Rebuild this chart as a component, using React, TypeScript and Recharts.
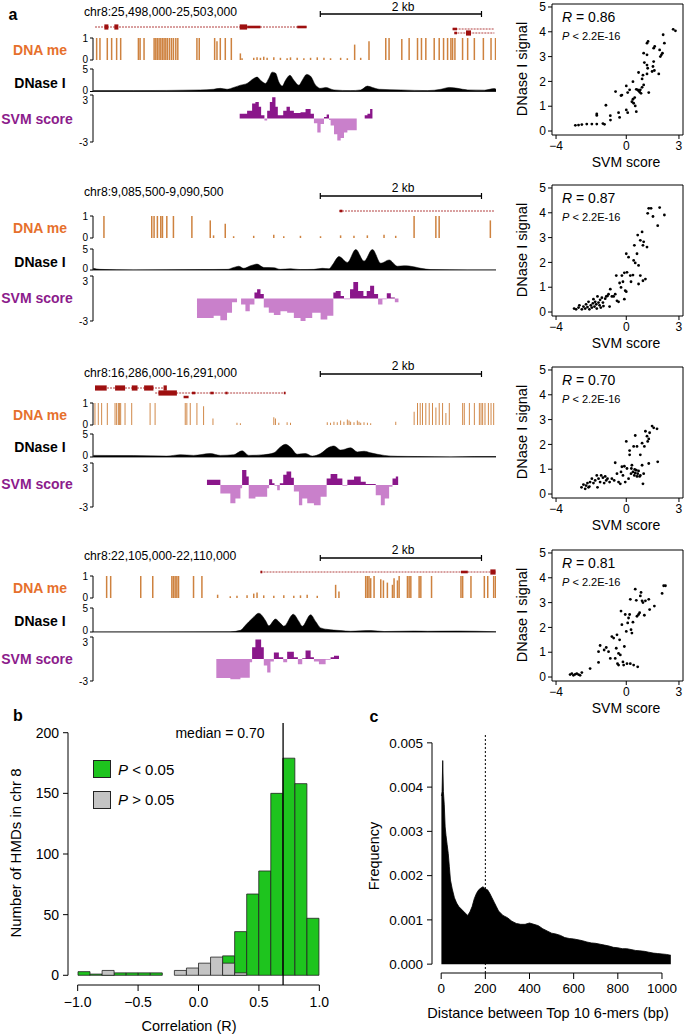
import React from 'react';
import {
  ComposedChart, Area, Bar, XAxis, YAxis, ReferenceLine, ReferenceArea,
  ScatterChart, Scatter,
} from 'recharts';

const FONT = '"Liberation Sans", Arial, Helvetica, sans-serif';
const ORANGE = '#e6702c';
const PURPLE = '#8c1c8c';
const SVM_POS = '#8a168a';
const SVM_NEG = '#c980cb';
const METH = '#c9742a';
const GENE = '#9e1010';

// ---------------- Panel a data ----------------
const regions = [
  'chr8:25,498,000-25,503,000',
  'chr8:9,085,500-9,090,500',
  'chr8:16,286,000-16,291,000',
  'chr8:22,105,000-22,110,000',
];
const scaleBarBp = [2820, 4820];
const hmds: [number, number][] = [[1829, 3467], [1310, 3786], [1422, 3778], [1539, 3052]];

const meth1: [number, number][] = [
  [46, 1], [87, 1], [178, 1], [232, 1], [294, 1], [344, 1], [564, 1], [585, 1], [634, 1], [759, 1], [780, 1], [800, 1],
  [821, 1], [842, 1], [863, 1], [883, 1], [904, 1], [925, 1], [950, 1], [975, 1], [999, 1], [1028, 1], [1053, 1],
  [1290, 1], [1319, 1], [1510, 1], [1539, 0.85], [1580, 1], [1642, 1], [1717, 1],
  [1829, 0.3], [1850, 0.08], [1995, 0.1], [2036, 0.12], [2078, 0.1], [2119, 0.15], [2161, 0.1], [2244, 0.12], [2326, 0.1],
  [2409, 0.08], [2451, 0.12], [2534, 0.1], [2617, 0.08], [2700, 0.1], [2783, 0.12], [2866, 0.1], [2948, 0.08], [3073, 0.1],
  [3156, 0.08], [3247, 0.7], [3322, 0.1], [3425, 0.85],
  [3633, 1], [3674, 1], [3832, 0.95], [3923, 1], [4027, 1], [4076, 1], [4130, 1], [4234, 1], [4296, 1], [4350, 1], [4400, 1],
  [4441, 1], [4462, 1], [4491, 1], [4586, 1], [4649, 1], [4732, 1], [4844, 1], [4939, 1], [4995, 1],
];
const meth2: [number, number][] = [
  [137, 1], [730, 1], [759, 1], [800, 1], [842, 1], [863, 1], [917, 1], [999, 1], [1228, 1],
  [1456, 0.8], [1497, 0.12], [1642, 0.65], [1746, 0.08], [1995, 0.1], [2244, 0.15], [2368, 0.08], [2575, 0.1], [2824, 0.08],
  [3073, 0.12], [3239, 0.1], [3405, 0.12], [3612, 0.15], [3757, 0.1],
  [3985, 1], [4255, 1], [4296, 1], [4931, 0.8],
];
const meth3: [number, number][] = [
  [25, 1], [66, 1], [108, 1], [178, 1], [274, 1], [294, 1], [315, 1], [328, 1], [344, 1], [398, 1], [481, 1], [709, 1], [771, 1],
  [1145, 1], [1165, 1], [1207, 1], [1290, 1], [1373, 0.85], [1489, 0.3],
  [1787, 0.1], [1829, 0.08], [2244, 0.35], [2264, 0.3], [2306, 0.1], [2409, 0.12], [2451, 0.1], [2907, 0.12], [2948, 0.1],
  [2990, 0.15], [3031, 0.12], [3073, 0.2], [3114, 0.15], [3156, 0.25], [3177, 0.2], [3197, 0.15], [3239, 0.12], [3280, 0.2],
  [3301, 0.15], [3322, 0.1], [3363, 0.12], [3405, 0.1], [3446, 0.08], [3757, 0.15],
  [3985, 0.6], [4027, 1], [4060, 1], [4089, 1], [4130, 1], [4172, 1], [4213, 1], [4255, 0.8], [4296, 1], [4338, 1], [4379, 0.55],
  [4421, 1], [4587, 1], [4607, 1], [4670, 1], [4732, 1], [4794, 1], [4815, 1], [4835, 1], [4864, 1], [4906, 1], [4939, 1], [4972, 1],
];
const meth4: [number, number][] = [
  [170, 1], [220, 1], [593, 1], [742, 1], [979, 1], [999, 1], [1020, 1], [1041, 1], [1062, 1], [1248, 1], [1352, 1],
  [1547, 0.15], [1704, 0.08], [1787, 0.1], [1912, 0.12], [1995, 0.2], [2036, 0.25], [2119, 0.12], [2244, 0.1], [2368, 0.12],
  [2492, 0.1], [2575, 0.12], [2658, 0.15], [2783, 0.1], [3011, 0.6], [3052, 0.3],
  [3384, 1], [3405, 1], [3425, 1], [3446, 0.9], [3488, 1], [3571, 0.85], [3604, 0.8], [3653, 0.7], [3716, 0.6], [3736, 0.9],
  [3778, 0.8], [3799, 1], [3902, 1], [3923, 1], [3944, 1], [4047, 1], [4068, 1], [4201, 1], [4566, 1], [4587, 1], [4690, 1],
  [4856, 1], [4898, 1], [4972, 1], [4995, 1],
];

const dnase1: [number, number][] = [
  [4, 0.2], [502, 0.2], [1331, 0.35], [1497, 0.5], [1580, 0.7], [1663, 0.5], [1746, 0.9], [1829, 1.4], [1912, 1.8],
  [1995, 2.9], [2036, 3.2], [2078, 2.5], [2140, 1.8], [2181, 2.9], [2223, 4.3], [2264, 4.1], [2306, 2.1], [2347, 1.2],
  [2389, 2.5], [2443, 3.6], [2492, 2.5], [2555, 1.4], [2596, 2.5], [2650, 3.8], [2700, 3.4], [2762, 1.4], [2824, 0.7],
  [2886, 0.9], [2990, 0.35], [3197, 0.2], [3322, 0.35], [3405, 1.2], [3467, 0.9], [3550, 0.5], [3819, 0.35], [4151, 0.2],
  [4317, 0.5], [4421, 0.9], [4524, 0.7], [4649, 0.35], [4856, 0.3], [4980, 0.65], [5000, 0.5],
];
const dnase2: [number, number][] = [
  [4, 0.4], [87, 0.15], [502, 0], [1331, 0.1], [1663, 0.15], [1746, 0.6], [1808, 0.9], [1870, 0.4], [1953, 1.0],
  [2036, 1.4], [2119, 0.6], [2244, 0.55], [2326, 0.15], [2451, 0.3], [2575, 0.1], [2741, 0.15], [2845, 0.4], [2928, 0.3],
  [2970, 1.2], [3052, 3.2], [3156, 1.8], [3260, 4.9], [3363, 2.1], [3467, 4.9], [3571, 1.6], [3674, 2.4], [3778, 0.9],
  [3860, 1.0], [3923, 0.95], [4068, 0.4], [4192, 0.1], [4649, 0], [5000, 0],
];
const dnase3: [number, number][] = [
  [4, 0.35], [502, 0.3], [916, 0.2], [1082, 0.5], [1248, 0.35], [1456, 0.75], [1580, 0.35], [1746, 0.5], [1850, 1.35],
  [1933, 0.35], [2119, 0.5], [2244, 0.9], [2326, 2.2], [2389, 2.75], [2451, 2.1], [2534, 0.6], [2637, 0.75], [2720, 0.2],
  [2824, 0.75], [2928, 2.1], [2990, 2.4], [3073, 1.5], [3197, 2.0], [3280, 1.1], [3363, 1.25], [3446, 0.9], [3612, 0.35],
  [3778, 0.15], [4027, 0.1], [4441, 0], [4732, 0.1], [5000, 0.1],
];
const dnase4: [number, number][] = [
  [4, 0], [1704, 0.05], [1829, 0.35], [1891, 1.4], [1974, 2.8], [2057, 3.9], [2140, 2.4], [2181, 1.3], [2264, 2.7],
  [2326, 1.8], [2368, 1.2], [2484, 3.7], [2555, 2.2], [2596, 1.2], [2700, 3.6], [2762, 2.2], [2824, 0.85], [2907, 0.55],
  [3073, 0.3], [3197, 0.15], [3446, 0.3], [3612, 0.1], [3985, 0.2], [4151, 0.15], [4524, 0.2], [5000, 0.05],
];

const svm1: [number, number][] = [
  [1820, 0.6], [1912, 1.0], [1974, 1.9], [2015, 2.1], [2057, 1.5], [2086, 0.4], [2127, -0.25], [2161, 1.0], [2194, 2.1],
  [2223, 2.7], [2264, 1.5], [2293, 0.4], [2360, 1.0], [2401, 1.5], [2443, 1.0], [2492, 0.7], [2575, 0.8], [2637, 1.2],
  [2700, 0.6], [2741, -0.6], [2783, -1.8], [2824, -0.7], [2866, 0.2], [2899, 0.5], [2928, -0.2], [2948, -0.9], [2990, -2.0],
  [3031, -2.8], [3073, -2.5], [3114, -1.8], [3156, -1.5], [3272, 0], [3371, 0.4], [3405, 0.6], [3438, 1.2], [3467, 1.2],
];
const svm2: [number, number][] = [
  [1290, -2.6], [1497, -2.3], [1580, -2.9], [1663, -1.9], [1725, -0.5], [1787, 0], [1837, -0.8], [1891, -1.7], [1945, -0.8],
  [2003, 0.8], [2036, 1.25], [2078, 0.6], [2119, -1.2], [2181, -1.9], [2244, -2.2], [2326, -1.7], [2409, -1.9], [2492, -2.6],
  [2575, -3.0], [2637, -2.6], [2720, -1.9], [2824, -2.8], [2907, -2.3], [2982, 0.8], [3011, 1.0], [3073, 0.35], [3114, -0.1],
  [3189, 1.25], [3230, 2.2], [3289, 1.0], [3355, 0.35], [3396, 1.0], [3438, 1.7], [3488, 0.6], [3537, -0.8], [3591, -0.1],
  [3645, 0.7], [3695, 0.15], [3745, -0.5], [3790, -0.5],
];
const svm3: [number, number][] = [
  [1414, 0.7], [1580, -1.15], [1704, -2.5], [1767, -1.85], [1829, -0.45], [1850, 2.05], [1903, 1.15], [1932, -1.85],
  [2015, -1.6], [2161, -0.45], [2185, 0.8], [2223, 0.25], [2252, -0.1], [2285, -0.7], [2318, 0.25], [2360, 1.4], [2401, 1.85],
  [2459, 1.0], [2492, -0.9], [2555, -2.75], [2596, -1.85], [2658, -2.5], [2741, -2.75], [2824, -1.6], [2899, 0.9], [2948, 1.5],
  [3031, 0.9], [3094, -0.1], [3156, 0.7], [3239, 1.15], [3322, 0.45], [3384, 0.15], [3508, -1.4], [3571, -2.75], [3620, -1.85],
  [3674, -0.25], [3716, 0.9], [3757, 1.15], [3786, 1.15],
];
const svm4: [number, number][] = [
  [1530, -2.6], [1704, -2.75], [1829, -2.55], [1945, -0.45], [1974, 1.6], [2015, 2.65], [2086, 1.6], [2119, -0.9],
  [2161, -1.85], [2202, -0.35], [2244, 0.9], [2306, 0.25], [2360, -0.45], [2409, 1.0], [2492, 0.25], [2542, -0.7], [2596, 0.1],
  [2637, 1.15], [2700, 0.25], [2741, -0.35], [2803, -0.7], [2886, -0.1], [2948, 0.25], [2990, 0.45], [3052, 0.45],
];

// genes: introns [start, end, lane]; exons [start, end, lane, thickness code]
const introns1: [number, number, number][] = [[25, 2650, 0], [4462, 4980, 1], [4483, 4980, 2]];
const exons1: [number, number, number, number][] = [
  [141, 191, 0, 2], [265, 315, 0, 2], [1820, 1912, 0, 2], [1912, 2078, 0, 1], [2534, 2650, 0, 1],
  [4462, 4516, 1, 1], [4483, 4516, 2, 1], [4628, 4690, 2, 2],
];
const introns2: [number, number, number][] = [[3052, 4980, 0]];
const exons2: [number, number, number, number][] = [[3060, 3094, 0, 1]];
const introns3: [number, number, number][] = [[25, 916, 0], [771, 2389, 1]];
const exons3: [number, number, number, number][] = [
  [25, 170, 0, 2], [274, 398, 0, 2], [481, 552, 0, 2], [634, 750, 0, 2], [875, 916, 0, 2],
  [812, 1041, 1, 2], [1228, 1269, 1, 1], [1456, 1497, 1, 1], [1642, 1670, 1, 1], [2368, 2389, 1, 1], [1124, 1186, 2, 1],
];
const introns4: [number, number, number][] = [[2078, 4995, 0]];
const exons4: [number, number, number, number][] = [[2078, 2100, 0, 1], [4566, 4650, 0, 1], [4930, 4995, 0, 2]];

// scatter: [SVM score, DNase I signal]
const scatter1: [number, number][] = [
  [-2.9, 0.23], [-2.72, 0.24], [-2.53, 0.26], [-2.25, 0.28], [-1.96, 0.28], [-1.68, 0.28], [-1.68, 0.63], [-1.68, 0.69],
  [-1.33, 0.3], [-1.24, 0.27], [-1.16, 1.04], [-0.91, 0.62], [-0.9, 0.44], [-0.61, 1.59], [-0.44, 0.74], [-0.38, 0.55],
  [-0.3, 1.43], [-0.25, 1.45], [0.0, 1.82], [0.0, 0.85], [0.08, 0.74], [0.08, 1.55], [0.19, 1.66], [0.32, 1.18], [0.38, 1.99],
  [0.38, 1.28], [0.42, 1.12], [0.48, 1.35], [0.51, 1.01], [0.57, 0.78], [0.57, 1.68], [0.65, 1.66], [0.7, 1.62], [0.76, 1.57],
  [0.8, 1.66], [0.84, 1.52], [0.9, 1.76], [0.9, 2.1], [0.95, 2.25], [0.7, 2.36], [0.99, 1.86], [1.03, 2.76], [0.99, 3.14],
  [1.18, 3.07], [1.18, 3.54], [1.24, 3.61], [1.18, 2.66], [1.22, 2.53], [1.28, 1.55], [1.18, 2.3], [1.47, 2.4], [1.52, 2.6],
  [1.56, 2.8], [1.6, 2.44], [1.56, 3.34], [1.62, 3.41], [1.9, 3.27], [1.94, 3.0], [2.0, 3.07], [2.06, 3.14], [2.1, 3.88],
  [2.17, 3.54], [2.67, 4.1], [2.8, 4.04], [1.85, 2.3],
];
const scatter2: [number, number][] = [
  [-2.97, 0.14], [-2.86, 0.11], [-2.72, 0.18], [-2.67, 0.27], [-2.53, 0.11], [-2.44, 0.22], [-2.34, 0.14], [-2.29, 0.31],
  [-2.21, 0.2], [-2.15, 0.41], [-2.1, 0.11], [-2.02, 0.27], [-1.96, 0.18], [-1.9, 0.35], [-1.87, 0.52], [-1.81, 0.22],
  [-1.77, 0.41], [-1.71, 0.31], [-1.68, 0.14], [-1.64, 0.63], [-1.58, 0.38], [-1.52, 0.27], [-1.49, 0.49], [-1.45, 0.18],
  [-1.39, 0.58], [-1.33, 0.38], [-1.3, 0.24], [-1.2, 0.54], [-1.14, 0.63], [-1.07, 0.65], [-1.01, 0.72], [-0.95, 0.22],
  [-0.91, 0.92], [-0.82, 0.63], [-0.72, 0.63], [-0.63, 0.72], [-0.57, 1.47], [-0.53, 0.45], [-0.44, 0.41], [-0.38, 1.17],
  [-0.3, 0.99], [-0.25, 1.47], [-0.19, 1.22], [-0.11, 0.52], [-0.06, 0.86], [0.0, 0.82], [-0.11, 1.58], [0.04, 1.6],
  [0.0, 2.35], [0.13, 2.21], [0.23, 1.47], [0.27, 1.22], [0.38, 1.49], [0.42, 2.08], [0.46, 2.69], [0.51, 1.98], [0.61, 2.35],
  [0.7, 1.88], [0.7, 1.13], [0.65, 3.1], [0.8, 2.89], [0.9, 3.23], [0.95, 2.69], [0.99, 2.83], [0.95, 1.26], [1.09, 1.33],
  [1.18, 2.62], [1.22, 3.98], [1.28, 4.18], [1.41, 4.18], [1.52, 3.85], [1.79, 3.48], [1.9, 4.21], [2.17, 3.91], [0.8, 1.47],
];
const scatter3: [number, number][] = [
  [-2.55, 0.27], [-2.44, 0.38], [-2.34, 0.21], [-2.29, 0.34], [-2.21, 0.44], [-2.15, 0.27], [-2.06, 0.48], [-2.1, 0.3],
  [-1.96, 0.62], [-1.87, 0.44], [-1.77, 0.55], [-1.68, 0.75], [-1.64, 0.27], [-1.58, 0.62], [-1.49, 0.48], [-1.43, 0.75],
  [-1.33, 0.66], [-1.26, 0.44], [-1.2, 0.71], [-1.14, 0.55], [-1.07, 0.62], [-0.95, 0.48], [-0.82, 0.62], [-0.69, 0.55],
  [-0.63, 1.26], [-0.53, 0.82], [-0.44, 0.48], [-0.34, 0.41], [-0.3, 0.89], [-0.25, 1.1], [-0.19, 0.75], [-0.11, 1.12],
  [-0.06, 0.48], [0.0, 2.12], [0.04, 1.03], [0.13, 0.62], [0.19, 1.58], [0.19, 1.75], [0.27, 0.82], [0.29, 1.03], [0.32, 1.16],
  [0.38, 0.89], [0.42, 1.92], [0.46, 0.75], [0.48, 0.99], [0.51, 0.85], [0.51, 2.36], [0.57, 0.96], [0.61, 1.92], [0.61, 0.71],
  [0.65, 0.82], [0.7, 0.93], [0.76, 0.71], [0.8, 0.75], [0.8, 1.58], [0.9, 1.16], [0.9, 2.05], [0.95, 0.41], [0.99, 0.82],
  [1.03, 1.92], [1.09, 2.53], [1.18, 2.33], [1.22, 2.12], [1.28, 2.22], [1.33, 2.47], [1.47, 2.74], [1.56, 2.67], [1.75, 2.63],
  [1.79, 1.3], [1.28, 1.23],
];
const scatter4: [number, number][] = [
  [-3.2, 0.1], [-3.1, 0.14], [-3.01, 0.07], [-2.91, 0.11], [-2.82, 0.14], [-2.72, 0.1], [-2.63, 0.07], [-2.53, 0.18],
  [-2.06, 0.34], [-1.58, 0.59], [-1.58, 1.02], [-1.49, 1.27], [-1.26, 1.09], [-1.14, 1.19], [-1.01, 1.02], [-0.82, 1.63],
  [-0.72, 1.57], [-0.63, 0.75], [-0.57, 1.16], [-0.53, 1.7], [-0.5, 0.54], [-0.44, 0.48], [-0.44, 0.95], [-0.38, 1.5],
  [-0.34, 0.89], [-0.3, 2.66], [-0.25, 2.11], [-0.19, 0.61], [-0.15, 0.48], [-0.11, 1.23], [0.0, 1.84], [0.04, 0.54],
  [0.08, 2.18], [0.13, 2.38], [0.19, 2.52], [0.23, 0.54], [0.27, 1.91], [0.32, 1.77], [0.23, 3.13], [0.38, 2.21], [0.42, 0.48],
  [0.51, 3.54], [0.57, 3.09], [0.61, 2.45], [0.65, 0.41], [0.7, 2.52], [0.76, 2.59], [0.8, 3.27], [0.9, 3.07], [0.84, 3.41],
  [0.95, 3.0], [1.03, 2.49], [1.09, 3.07], [1.28, 3.13], [1.33, 2.72], [1.6, 2.86], [2.04, 3.37], [2.13, 3.68], [2.23, 3.68],
  [-0.91, 0.75], [-0.06, 2.52],
];
const corrR = ['0.86', '0.87', '0.70', '0.81'];

// ---------------- Panel b data ----------------
const binStarts = [-1.0, -0.9, -0.8, -0.7, -0.6, -0.5, -0.4, -0.3, -0.2, -0.1, 0.0, 0.1, 0.2, 0.3, 0.4, 0.5, 0.6, 0.7, 0.8, 0.9];
const countSig = [3, 1, 1, 2, 2, 2, 2, 0, 0, 0, 0, 0, 16, 36, 67, 86, 150, 179, 158, 47];
const countNonSig = [0, 0, 4, 0, 0, 0, 0, 0, 4, 6, 10, 15, 10, 2, 0, 0, 0, 0, 0, 0];
const medianR = 0.7;

// ---------------- Panel c data ----------------
const distBp = [
  1, 4, 7, 10, 14, 18, 22, 27, 32, 37, 42, 50, 60, 70, 80, 90, 100, 110, 120, 130, 140, 150, 160, 170, 180, 190, 200, 210,
  220, 230, 240, 250, 260, 280, 300, 320, 340, 360, 380, 400, 420, 440, 460, 480, 500, 520, 540, 560, 580, 600, 620, 640,
  660, 680, 700, 720, 740, 760, 780, 800, 820, 840, 860, 880, 900, 920, 940, 960, 980, 1000, 1020, 1040,
];
const distFreq = [
  0.0038, 0.0039, 0.0046, 0.0039, 0.0036, 0.0031, 0.0029, 0.0027, 0.0025, 0.0022, 0.0019, 0.0017, 0.0015, 0.00138, 0.0013,
  0.00125, 0.0012, 0.00115, 0.0011, 0.00118, 0.0013, 0.00148, 0.0016, 0.00168, 0.00172, 0.00175, 0.0017, 0.00168, 0.0016,
  0.0015, 0.0014, 0.0013, 0.0012, 0.0011, 0.00105, 0.00097, 0.00092, 0.0009, 0.0009, 0.00093, 0.0009, 0.00087, 0.0008,
  0.00075, 0.0007, 0.00068, 0.00065, 0.0006, 0.00058, 0.00057, 0.00055, 0.00053, 0.0005, 0.00048, 0.00047, 0.00045,
  0.00043, 0.00041, 0.00038, 0.00037, 0.00035, 0.00035, 0.00033, 0.00031, 0.0003, 0.00029, 0.00027, 0.00025, 0.00024,
  0.00023, 0.00022, 0.0002,
];
const nucleosomeBp = 200;

// ---------------- layout ----------------
const ROWS = [
  { title: 12, bar: 14, kb: 7, lanes: [27, 29, 33], mT: 38, mB: 60, hmd: 64, dT: 69, dB: 91.5, sT: 95, sB: 142, lab: [50, 83, 119], box: 4 },
  { title: 192, bar: 196, kb: 188, lanes: [211], mT: 216, mB: 238, hmd: 243, dT: 249, dB: 270, sT: 276, sB: 321, lab: [228, 262, 298], box: 185 },
  { title: 373, bar: 374, kb: 366, lanes: [388, 393, 397], mT: 403, mB: 425, hmd: 429, dT: 434, dB: 457, sT: 463, sB: 507, lab: [415, 447, 484], box: 367 },
  { title: 556, bar: 558, kb: 550, lanes: [572], mT: 576, mB: 598, hmd: 604, dT: 608, dB: 632, sT: 637, sB: 681, lab: [588, 621, 659], box: 550 },
];
const METHS = [meth1, meth2, meth3, meth4];
const DNASES = [dnase1, dnase2, dnase3, dnase4];
const SVMS = [svm1, svm2, svm3, svm4];
const INTRONS = [introns1, introns2, introns3, introns4];
const EXONS = [exons1, exons2, exons3, exons4];
const SCATTERS = [scatter1, scatter2, scatter3, scatter4];

const minus = (v: any) => String(v).replace('-', '\u2212');

function Txt({ x, y, size = 11, anchor = 'middle', bold = false, color = '#000', rot = false, children }: any) {
  const tx = anchor === 'middle' ? '-50%' : anchor === 'end' ? '-100%' : '0';
  return (
    <div
      style={{
        position: 'absolute', left: x, top: y, whiteSpace: 'nowrap', lineHeight: 1,
        transform: `translate(${tx}, -50%)${rot ? ' rotate(-90deg)' : ''}`,
        fontSize: size, fontWeight: bold ? 700 : 400, color, fontFamily: FONT,
      }}
    >
      {children}
    </div>
  );
}

const TRACK_MARGIN = { left: 72, right: 4 };

// track tick label; the top label of the SVM track sits a little below its tick, like the browser image
const trackTick = (shiftTop: number, topValue: number, shiftBottom = 0, bottomValue = NaN) => (p: any) => {
  const v = p.payload.value;
  const dy = v === topValue ? shiftTop : v === bottomValue ? shiftBottom : 0;
  return (
    <text x={p.x} y={p.y + dy} dy="0.355em" textAnchor="end" fontSize={10} fill="#000" fontFamily={FONT}>{v}</text>
  );
};

function Header({ r }: { r: number }) {
  const row = ROWS[r];
  const y0 = row.bar - 5;
  const y1 = Math.max(...row.lanes) + 5;
  return (
    <div style={{ position: 'absolute', left: 0, top: y0 }}>
      <ComposedChart width={500} height={y1 - y0} margin={{ top: 0, bottom: 0, left: 93, right: 4 }}>
        <XAxis type="number" dataKey="x" domain={[0, 5000]} hide allowDataOverflow />
        <YAxis type="number" domain={[y0, y1]} reversed hide allowDataOverflow />
        <ReferenceLine segment={[{ x: scaleBarBp[0], y: row.bar }, { x: scaleBarBp[1], y: row.bar }]} stroke="#000" strokeWidth={1.5} ifOverflow="visible" />
        <ReferenceLine segment={[{ x: scaleBarBp[0], y: row.bar - 3 }, { x: scaleBarBp[0], y: row.bar + 3 }]} stroke="#000" strokeWidth={1.2} ifOverflow="visible" />
        <ReferenceLine segment={[{ x: scaleBarBp[1], y: row.bar - 3 }, { x: scaleBarBp[1], y: row.bar + 3 }]} stroke="#000" strokeWidth={1.2} ifOverflow="visible" />
        {INTRONS[r].map(([s, e, lane], i) => (
          <ReferenceLine key={'i' + i} segment={[{ x: s, y: row.lanes[lane] }, { x: e, y: row.lanes[lane] }]} stroke={GENE} strokeWidth={0.8} strokeDasharray="2 1" ifOverflow="visible" />
        ))}
        {EXONS[r].map(([s, e, lane, t], i) => (
          <ReferenceArea key={'e' + i} x1={s} x2={e} y1={row.lanes[lane] - t * 1.3} y2={row.lanes[lane] + t * 1.3} fill={GENE} fillOpacity={1} stroke="none" ifOverflow="visible" />
        ))}
      </ComposedChart>
    </div>
  );
}

function MethTrack({ r }: { r: number }) {
  const row = ROWS[r];
  const data = METHS[r].map(([x, v]) => ({ x, v }));
  const mt = 7, mb = 6;
  return (
    <div style={{ position: 'absolute', left: 0, top: row.mT - mt }}>
      <ComposedChart width={500} height={row.mB - row.mT + mt + mb} data={data} margin={{ top: mt, bottom: mb, ...TRACK_MARGIN }}>
        <XAxis type="number" dataKey="x" domain={[0, 5000]} hide allowDataOverflow />
        <YAxis type="number" domain={[0, 1]} ticks={[0, 1]} interval={0} width={21} tickSize={3} tickMargin={2} stroke="#000" tick={trackTick(0, 1, -1, 0)} allowDataOverflow />
        <Bar dataKey="v" fill={METH} fillOpacity={0.9} barSize={1.5} isAnimationActive={false} />
      </ComposedChart>
    </div>
  );
}

function HmdBar({ r }: { r: number }) {
  const row = ROWS[r];
  const [s, e] = hmds[r];
  return (
    <div style={{ position: 'absolute', left: 0, top: row.hmd - 2 }}>
      <ComposedChart width={500} height={4} margin={{ top: 0, bottom: 0, left: 93, right: 4 }}>
        <XAxis type="number" dataKey="x" domain={[0, 5000]} hide allowDataOverflow />
        <YAxis type="number" domain={[0, 1]} hide />
        <ReferenceArea x1={s} x2={e} y1={0} y2={1} fill="#000" fillOpacity={1} stroke="none" ifOverflow="visible" />
      </ComposedChart>
    </div>
  );
}

function DnaseTrack({ r }: { r: number }) {
  const row = ROWS[r];
  const data = DNASES[r].map(([x, v]) => ({ x, v }));
  const mt = 7, mb = 6;
  return (
    <div style={{ position: 'absolute', left: 0, top: row.dT - mt }}>
      <ComposedChart width={500} height={row.dB - row.dT + mt + mb} data={data} margin={{ top: mt, bottom: mb, ...TRACK_MARGIN }}>
        <XAxis type="number" dataKey="x" domain={[0, 5000]} hide allowDataOverflow />
        <YAxis type="number" domain={[0, 5]} ticks={[0, 5]} interval={0} width={21} tickSize={3} tickMargin={2} stroke="#000" tick={trackTick(0, 5, -1.5, 0)} allowDataOverflow />
        <ReferenceLine y={0} stroke="#000" strokeWidth={0.8} />
        <Area type="monotone" dataKey="v" fill="#000" fillOpacity={1} stroke="#000" strokeWidth={0.5} baseValue={0} isAnimationActive={false} />
      </ComposedChart>
    </div>
  );
}

function SvmTrack({ r }: { r: number }) {
  const row = ROWS[r];
  const data = SVMS[r].map(([x, v]) => ({ x, pos: v > 0 ? v : 0, neg: v < 0 ? v : 0 }));
  const mt = 7, mb = 7;
  return (
    <div style={{ position: 'absolute', left: 0, top: row.sT - mt }}>
      <ComposedChart width={500} height={row.sB - row.sT + mt + mb} data={data} margin={{ top: mt, bottom: mb, ...TRACK_MARGIN }}>
        <XAxis type="number" dataKey="x" domain={[0, 5000]} hide allowDataOverflow />
        <YAxis type="number" domain={[-3, 3]} ticks={[-3, 3]} interval={0} width={21} tickSize={3} tickMargin={2} stroke="#000" tick={trackTick(5, 3)} allowDataOverflow />
        <Area type="stepAfter" dataKey="pos" fill={SVM_POS} fillOpacity={1} stroke="none" baseValue={0} isAnimationActive={false} />
        <Area type="stepAfter" dataKey="neg" fill={SVM_NEG} fillOpacity={1} stroke="none" baseValue={0} isAnimationActive={false} />
      </ComposedChart>
    </div>
  );
}

const Dot = (p: any) => <circle cx={p.cx} cy={p.cy} r={1.4} fill="#000" />;

function ScatterPanel({ r }: { r: number }) {
  const row = ROWS[r];
  const data = SCATTERS[r].map(([x, y]) => ({ x, y }));
  const tick12 = { fontSize: 12, fill: '#000', fontFamily: FONT };
  return (
    <>
      <div style={{ position: 'absolute', left: 500, top: row.box - 8 }}>
        <ScatterChart width={186} height={163} margin={{ top: 8, right: 3, bottom: 0, left: 32 }}>
          <XAxis type="number" dataKey="x" domain={[-4.23, 3.23]} ticks={[-4, 0, 3]} interval={0} height={24} tickSize={4} tickMargin={2} axisLine={false} stroke="#000" tick={tick12} tickFormatter={minus} allowDataOverflow />
          <YAxis type="number" dataKey="y" domain={[-0.16, 5.12]} ticks={[0, 1, 2, 3, 4, 5]} interval={0} width={20} tickSize={4} tickMargin={2} axisLine={false} stroke="#000" tick={tick12} allowDataOverflow />
          <ReferenceArea x1={-4.23} x2={3.23} y1={-0.16} y2={5.12} fill="none" stroke="#000" strokeWidth={1} ifOverflow="visible" />
          <Scatter data={data} shape={Dot} isAnimationActive={false} />
        </ScatterChart>
      </div>
      <Txt x={522} y={row.box + 65} size={14.5} rot>DNase I signal</Txt>
      <Txt x={626} y={row.box + 158} size={14}>SVM score</Txt>
      <Txt x={562} y={row.box + 13} size={14} anchor="start"><i>R</i> = {corrR[r]}</Txt>
      <Txt x={562} y={row.box + 32} size={11} anchor="start"><i>P</i> &lt; 2.2E-16</Txt>
    </>
  );
}

function GenomeRow({ r }: { r: number }) {
  const row = ROWS[r];
  return (
    <>
      <Txt x={84} y={row.title} size={12.2} anchor="start">{regions[r]}</Txt>
      <Txt x={403} y={row.kb} size={12}>2 kb</Txt>
      <Header r={r} />
      <MethTrack r={r} />
      <HmdBar r={r} />
      <DnaseTrack r={r} />
      <SvmTrack r={r} />
      <Txt x={40} y={row.lab[0]} size={14} bold color={ORANGE}>DNA me</Txt>
      <Txt x={40} y={row.lab[1]} size={14} bold>DNase I</Txt>
      <Txt x={37} y={row.lab[2]} size={14} bold color={PURPLE}>SVM score</Txt>
      <ScatterPanel r={r} />
    </>
  );
}

function PanelB() {
  const data = binStarts.map((b, i) => ({ bin: b.toFixed(1), mid: b + 0.05, sig: countSig[i], ns: countNonSig[i] }));
  const tick14 = { fontSize: 14, fill: '#000', fontFamily: FONT };
  return (
    <>
      <div style={{ position: 'absolute', left: 0, top: 690 }}>
        <ComposedChart width={340} height={345} data={data} margin={{ top: 33, right: 11, bottom: 0, left: 18 }} barCategoryGap={0} barGap={0}>
          <XAxis xAxisId="num" dataKey="mid" type="number" domain={[-1.08, 1.08]} ticks={[-1, -0.5, 0, 0.5, 1]} interval={0}
            tickFormatter={(v: number) => minus(Number(v).toFixed(1))} height={50} tickSize={6} tickMargin={6}
            axisLine={false} stroke="#000" tick={tick14} allowDataOverflow />
          <XAxis xAxisId="band" dataKey="bin" type="category" hide height={0} padding={{ left: 10, right: 10 }} />
          <XAxis xAxisId="band2" dataKey="bin" type="category" hide height={0} padding={{ left: 10, right: 10 }} />
          <YAxis type="number" domain={[-8, 208]} ticks={[0, 50, 100, 150, 200]} interval={0} width={50} tickSize={5} tickMargin={4}
            axisLine={false} stroke="#000" tick={tick14} allowDataOverflow />
          <Bar xAxisId="band" dataKey="sig" fill="#1ec41e" stroke="#222" strokeWidth={0.8} isAnimationActive={false} />
          <Bar xAxisId="band2" dataKey="ns" fill="#c4c4c4" stroke="#222" strokeWidth={0.8} isAnimationActive={false} />
          <ReferenceLine xAxisId="num" segment={[{ x: -1.08, y: 0 }, { x: -1.08, y: 200 }]} stroke="#000" ifOverflow="visible" />
          <ReferenceLine xAxisId="num" segment={[{ x: -1, y: -8 }, { x: 1, y: -8 }]} stroke="#000" ifOverflow="visible" />
          <ReferenceLine xAxisId="num" x={medianR} stroke="#000" strokeWidth={1.3} />
        </ComposedChart>
      </div>
      <Txt x={18} y={716} size={16} bold>b</Txt>
      <Txt x={220} y={733} size={14}>median = {medianR.toFixed(2)}</Txt>
      <div style={{ position: 'absolute', left: 93, top: 760, width: 16, height: 16, background: '#1ec41e', border: '1px solid #222' }} />
      <Txt x={118} y={769} size={15} anchor="start"><i>P</i> &lt; 0.05</Txt>
      <div style={{ position: 'absolute', left: 93, top: 791, width: 16, height: 16, background: '#c4c4c4', border: '1px solid #222' }} />
      <Txt x={118} y={799} size={15} anchor="start"><i>P</i> &gt; 0.05</Txt>
      <Txt x={15} y={853} size={15} rot>Number of HMDs in chr 8</Txt>
      <Txt x={189} y={1026} size={14.5}>Correlation (R)</Txt>
    </>
  );
}

function PanelC() {
  const data = distBp.map((x, i) => ({ x, f: distFreq[i] }));
  const tick = { fontSize: 13.5, fill: '#000', fontFamily: FONT };
  return (
    <>
      <div style={{ position: 'absolute', left: 340, top: 690 }}>
        <ComposedChart width={346} height={345} data={data} margin={{ top: 44, right: 6, bottom: 0, left: 22 }}>
          <XAxis type="number" dataKey="x" domain={[-41.6, 1081.6]} ticks={[0, 200, 400, 600, 800, 1000]} interval={0} height={62}
            tickSize={6} tickMargin={4} axisLine={false} stroke="#000" tick={tick} allowDataOverflow />
          <YAxis type="number" domain={[-0.0002, 0.0052]} ticks={[0, 0.001, 0.002, 0.003, 0.004, 0.005]} interval={0} width={70}
            tickSize={5} tickMargin={4} axisLine={false} stroke="#000" tick={tick} tickFormatter={(v: number) => Number(v).toFixed(3)} allowDataOverflow />
          <Area type="linear" dataKey="f" fill="#000" fillOpacity={1} stroke="#000" strokeWidth={0.8} baseValue={0} isAnimationActive={false} />
          <ReferenceLine segment={[{ x: -41.6, y: 0 }, { x: -41.6, y: 0.005 }]} stroke="#000" ifOverflow="visible" />
          <ReferenceLine segment={[{ x: 0, y: -0.0002 }, { x: 1000, y: -0.0002 }]} stroke="#000" ifOverflow="visible" />
          <ReferenceLine x={nucleosomeBp} stroke="#000" strokeDasharray="2 2" strokeWidth={1} />
        </ComposedChart>
      </div>
      <Txt x={374} y={717} size={16} bold>c</Txt>
      <Txt x={374} y={856} size={14.5} rot>Frequency</Txt>
      <Txt x={548} y={1013} size={14.5}>Distance between Top 10 6-mers (bp)</Txt>
    </>
  );
}

export default function App() {
  return (
    <div style={{ position: 'absolute', left: 0, top: 0, width: 686, height: 1035, background: '#fff', overflow: 'hidden', fontFamily: FONT }}>
      <Txt x={13} y={15} size={16} bold>a</Txt>
      {[0, 1, 2, 3].map((r) => <GenomeRow key={r} r={r} />)}
      <PanelB />
      <PanelC />
    </div>
  );
}
